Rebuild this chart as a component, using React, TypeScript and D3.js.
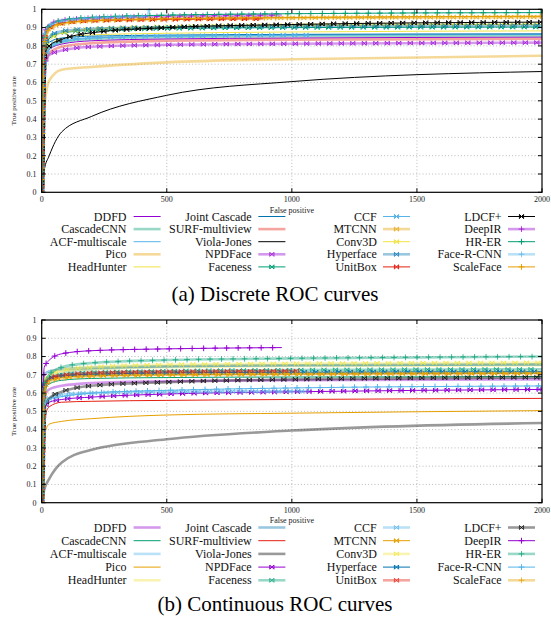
import React, { useEffect, useRef } from "react";
import * as d3 from "d3";

// ---------- data ----------
const methods = [
  "DDFD", "CascadeCNN", "ACF-multiscale", "Pico", "HeadHunter",
  "Joint Cascade", "SURF-multiview", "Viola-Jones", "NPDFace", "Faceness",
  "CCF", "MTCNN", "Conv3D", "Hyperface", "UnitBox",
  "LDCF+", "DeepIR", "HR-ER", "Face-R-CNN", "ScaleFace",
];

const palette = ["#9400D3", "#009E73", "#56B4E9", "#E69F00", "#F0E442", "#0072B2", "#E51E10", "#000000"];

const xTicks = [0, 500, 1000, 1500, 2000];
const yTicks = [0, 0.1, 0.2, 0.3, 0.4, 0.5, 0.6, 0.7, 0.8, 0.9, 1];
const yTickLabels = ["0", "0.1", "0.2", "0.3", "0.4", "0.5", "0.6", "0.7", "0.8", "0.9", "1"];

// [false positives, true positive rate] per method (same order as methods)
const discreteCurves: [number, number][][] = [
  [[0, 0], [10, 0.70], [30, 0.78], [80, 0.81], [200, 0.828], [500, 0.838], [1000, 0.843], [2000, 0.848]],
  [[0, 0], [10, 0.72], [30, 0.79], [80, 0.82], [200, 0.838], [500, 0.849], [1000, 0.854], [2000, 0.857]],
  [[0, 0], [10, 0.70], [30, 0.78], [80, 0.82], [200, 0.842], [500, 0.853], [1000, 0.858], [2000, 0.862]],
  [[0, 0], [10, 0.45], [30, 0.61], [80, 0.67], [200, 0.685], [500, 0.71], [1000, 0.727], [2000, 0.746]],
  [[0, 0], [10, 0.72], [30, 0.80], [80, 0.84], [200, 0.86], [500, 0.869], [1000, 0.876], [2000, 0.882]],
  [[0, 0], [10, 0.75], [30, 0.82], [80, 0.843], [200, 0.853], [500, 0.859], [1000, 0.863], [2000, 0.866]],
  [[0, 0], [10, 0.68], [30, 0.76], [80, 0.795], [200, 0.815], [500, 0.828], [1000, 0.834], [2000, 0.838]],
  [[0, 0], [10, 0.12], [30, 0.20], [80, 0.33], [200, 0.415], [500, 0.53], [1000, 0.605], [2000, 0.66]],
  [[0, 0], [10, 0.70], [30, 0.75], [80, 0.775], [200, 0.795], [500, 0.806], [1000, 0.812], [2000, 0.818]],
  [[0, 0], [10, 0.76], [30, 0.84], [80, 0.87], [200, 0.885], [500, 0.895], [1000, 0.90], [2000, 0.903]],
  [[0, 0], [10, 0.70], [30, 0.79], [80, 0.83], [200, 0.845], [500, 0.853], [1070, 0.859]],
  [[0, 0], [10, 0.82], [30, 0.89], [80, 0.92], [200, 0.937], [500, 0.947], [1000, 0.953], [2000, 0.958]],
  [[0, 0], [10, 0.75], [30, 0.83], [80, 0.87], [200, 0.892], [500, 0.905], [1000, 0.912], [2000, 0.918]],
  [[0, 0], [10, 0.78], [30, 0.85], [80, 0.88], [200, 0.893], [500, 0.902], [1000, 0.907], [2000, 0.912]],
  [[0, 0], [10, 0.83], [30, 0.90], [80, 0.925], [200, 0.938], [500, 0.945], [885, 0.948]],
  [[0, 0], [10, 0.74], [30, 0.80], [80, 0.835], [200, 0.872], [500, 0.90], [1000, 0.917], [2000, 0.93]],
  [[0, 0], [10, 0.86], [30, 0.915], [80, 0.94], [200, 0.952], [500, 0.962], [960, 0.968]],
  [[0, 0], [10, 0.84], [30, 0.91], [80, 0.94], [200, 0.956], [500, 0.968], [1000, 0.976], [2000, 0.982]],
  [[0, 0], [10, 0.85], [30, 0.91], [80, 0.935], [200, 0.952], [420, 0.962], [430, 1.0]],
  [[0, 0], [10, 0.82], [30, 0.89], [80, 0.922], [200, 0.938], [500, 0.948], [1000, 0.955], [2000, 0.962]],
];

const continuousCurves: [number, number][][] = [
  [[0, 0], [10, 0.58], [30, 0.62], [80, 0.64], [200, 0.655], [500, 0.665], [1000, 0.67], [2000, 0.675]],
  [[0, 0], [10, 0.60], [30, 0.65], [80, 0.67], [200, 0.68], [500, 0.685], [1000, 0.688], [2000, 0.69]],
  [[0, 0], [10, 0.62], [30, 0.68], [80, 0.71], [200, 0.73], [500, 0.745], [1000, 0.752], [2000, 0.757]],
  [[0, 0], [10, 0.36], [30, 0.43], [80, 0.445], [200, 0.46], [500, 0.48], [1000, 0.49], [2000, 0.504]],
  [[0, 0], [10, 0.64], [30, 0.69], [80, 0.715], [200, 0.73], [500, 0.742], [1000, 0.748], [2000, 0.752]],
  [[0, 0], [10, 0.70], [30, 0.72], [80, 0.73], [200, 0.738], [500, 0.747], [1000, 0.752], [2000, 0.757]],
  [[0, 0], [10, 0.45], [30, 0.525], [80, 0.55], [200, 0.555], [500, 0.56], [1000, 0.565], [2000, 0.571]],
  [[0, 0], [10, 0.07], [30, 0.13], [80, 0.22], [200, 0.29], [500, 0.347], [1000, 0.395], [2000, 0.436]],
  [[0, 0], [10, 0.52], [30, 0.55], [80, 0.565], [200, 0.578], [500, 0.595], [1000, 0.607], [2000, 0.62]],
  [[0, 0], [10, 0.63], [30, 0.68], [80, 0.70], [200, 0.712], [500, 0.72], [1000, 0.726], [2000, 0.73]],
  [[0, 0], [10, 0.53], [30, 0.57], [80, 0.59], [200, 0.60], [500, 0.607], [1070, 0.61]],
  [[0, 0], [10, 0.62], [30, 0.67], [80, 0.685], [200, 0.695], [500, 0.70], [1000, 0.704], [2000, 0.708]],
  [[0, 0], [10, 0.65], [30, 0.70], [80, 0.725], [200, 0.742], [500, 0.755], [1000, 0.761], [2000, 0.766]],
  [[0, 0], [10, 0.64], [30, 0.68], [80, 0.695], [200, 0.703], [500, 0.71], [1000, 0.714], [2000, 0.717]],
  [[0, 0], [10, 0.64], [30, 0.68], [80, 0.697], [200, 0.71], [500, 0.717], [1020, 0.721]],
  [[0, 0], [10, 0.52], [30, 0.57], [80, 0.607], [200, 0.64], [500, 0.66], [1000, 0.675], [2000, 0.686]],
  [[0, 0], [10, 0.74], [30, 0.78], [80, 0.815], [200, 0.832], [500, 0.842], [960, 0.849]],
  [[0, 0], [10, 0.64], [30, 0.70], [80, 0.742], [200, 0.765], [500, 0.781], [1000, 0.79], [2000, 0.80]],
  [[0, 0], [10, 0.54], [30, 0.565], [80, 0.58], [200, 0.60], [500, 0.615], [1000, 0.628], [2000, 0.639]],
  [[0, 0], [10, 0.61], [30, 0.66], [80, 0.68], [200, 0.693], [500, 0.70], [1000, 0.705], [2000, 0.71]],
];

// ---------- layout ----------
const FONT = "'Liberation Serif', 'Times New Roman', Times, serif";
const PX0 = 41.7;
const PX1 = 542;
const legendTextX = [126.5, 251.7, 376.8, 501.6];
const legendLineX = [[133.6, 160.6], [258.3, 285.4], [383, 410], [508, 535]];
const THICK_W = 2.6;
const THICK_OP = 0.4;

type Cfg = {
  top: number;
  bottom: number;
  curves: [number, number][][];
  thick: (i: number) => boolean;
  legendY0: number;
  legendStep: number;
  captionY: number;
  caption: string;
};

function markerPath(kind: string, s: number) {
  if (kind === "x")
    return `M${-s},${-s}L${s},${s}M${-s},${s}L${s},${-s}M${-s},${-s}L${-s},${s}M${s},${-s}L${s},${s}`;
  return `M${-s - 0.5},0H${s + 0.5}M0,${-s - 0.5}V${s + 0.5}`;
}

function drawChart(svg: d3.Selection<SVGSVGElement, unknown, null, undefined>, cfg: Cfg, id: string) {
  const x = d3.scaleLinear().domain([0, 2000]).range([PX0, PX1]);
  const y = d3.scaleLinear().domain([0, 1]).range([cfg.bottom, cfg.top]);
  const g = svg.append("g");

  g.append("clipPath").attr("id", id).append("rect")
    .attr("x", PX0).attr("y", cfg.top - 1).attr("width", PX1 - PX0).attr("height", cfg.bottom - cfg.top + 1);

  // grid
  const grid = g.append("g").attr("stroke", "#a8a8a8").attr("stroke-width", 0.8).attr("stroke-dasharray", "1,2.2");
  yTicks.slice(1, -1).forEach((t) => {
    grid.append("line").attr("x1", PX0).attr("x2", PX1).attr("y1", y(t)).attr("y2", y(t));
  });
  xTicks.slice(1, -1).forEach((t) => {
    grid.append("line").attr("x1", x(t)).attr("x2", x(t)).attr("y1", cfg.top).attr("y2", cfg.bottom);
  });

  // curves
  const line = d3.line<[number, number]>().x((d) => x(d[0])).y((d) => y(d[1])).curve(d3.curveMonotoneX);
  const cg = g.append("g").attr("clip-path", `url(#${id})`);
  cfg.curves.forEach((pts, i) => {
    const color = palette[i % 8];
    const thick = cfg.thick(i);
    const kind = i < 8 ? "" : i < 16 ? "x" : "+";
    const path = cg.append("path").attr("d", line(pts) || "")
      .attr("fill", "none").attr("stroke", color)
      .attr("stroke-width", thick ? THICK_W : 1)
      .attr("stroke-opacity", thick ? THICK_OP : 1)
      .attr("stroke-linejoin", "round");
    if (kind) {
      const node = path.node() as SVGPathElement;
      const L = node.getTotalLength();
      const step = 11.5;
      const mg = cg.append("g").attr("stroke", color).attr("stroke-width", 1).attr("fill", "none")
        .attr("stroke-opacity", thick ? 0.7 : 1);
      for (let s = (i * 3.7) % step; s <= L; s += step) {
        const p = node.getPointAtLength(s);
        mg.append("path").attr("d", markerPath(kind, kind === "x" ? 2.1 : 2.4))
          .attr("transform", `translate(${p.x},${p.y})`);
      }
    }
  });

  // border + ticks
  g.append("rect").attr("x", PX0).attr("y", cfg.top).attr("width", PX1 - PX0).attr("height", cfg.bottom - cfg.top)
    .attr("fill", "none").attr("stroke", "#000").attr("stroke-width", 1.2);
  const tk = g.append("g").attr("stroke", "#000").attr("stroke-width", 1);
  yTicks.forEach((t) => {
    tk.append("line").attr("x1", PX0).attr("x2", PX0 + 4).attr("y1", y(t)).attr("y2", y(t));
    tk.append("line").attr("x1", PX1 - 4).attr("x2", PX1).attr("y1", y(t)).attr("y2", y(t));
  });
  xTicks.forEach((t) => {
    tk.append("line").attr("x1", x(t)).attr("x2", x(t)).attr("y1", cfg.bottom).attr("y2", cfg.bottom - 4);
    tk.append("line").attr("x1", x(t)).attr("x2", x(t)).attr("y1", cfg.top).attr("y2", cfg.top + 4);
  });

  // tick labels
  const tl = g.append("g").attr("font-family", FONT).attr("font-size", 8).attr("fill", "#222");
  yTicks.forEach((t, k) => {
    tl.append("text").attr("x", 36.5).attr("y", y(t) + 2.8).attr("text-anchor", "end").text(yTickLabels[k]);
  });
  xTicks.forEach((t) => {
    tl.append("text").attr("x", x(t)).attr("y", cfg.bottom + 10).attr("text-anchor", "middle").text(String(t));
  });
  tl.append("text").attr("x", (PX0 + PX1) / 2).attr("y", cfg.bottom + 20.5).attr("text-anchor", "middle")
    .attr("font-size", 8).text("False positive");
  const cy = (cfg.top + cfg.bottom) / 2;
  tl.append("text").attr("transform", `translate(15.5,${cy}) rotate(-90)`).attr("text-anchor", "middle")
    .attr("font-size", 7).text("True positive rate");

  // legend
  const lg = g.append("g").attr("font-family", FONT).attr("font-size", 12).attr("fill", "#111");
  methods.forEach((name, i) => {
    const col = Math.floor(i / 5);
    const row = i % 5;
    const ly = cfg.legendY0 + row * cfg.legendStep;
    const color = palette[i % 8];
    const thick = cfg.thick(i);
    const kind = i < 8 ? "" : i < 16 ? "x" : "+";
    lg.append("text").attr("x", legendTextX[col]).attr("y", ly + 4).attr("text-anchor", "end").text(name);
    const [a, b] = legendLineX[col];
    lg.append("line").attr("x1", a).attr("x2", b).attr("y1", ly).attr("y2", ly)
      .attr("stroke", color).attr("stroke-width", thick ? THICK_W : 1).attr("stroke-opacity", thick ? THICK_OP : 1);
    if (kind) {
      lg.append("path").attr("d", markerPath(kind, kind === "x" ? 2.1 : 2.4))
        .attr("transform", `translate(${(a + b) / 2},${ly})`)
        .attr("fill", "none").attr("stroke", color).attr("stroke-width", 1)
        .attr("stroke-opacity", thick ? 0.7 : 1);
    }
  });

  // caption
  g.append("text").attr("x", 275).attr("y", cfg.captionY + 7).attr("text-anchor", "middle")
    .attr("font-family", FONT).attr("font-size", 21).attr("fill", "#000").text(cfg.caption);
}

export default function App() {
  const ref = useRef<SVGSVGElement>(null);
  useEffect(() => {
    if (!ref.current) return;
    const svg = d3.select(ref.current);
    svg.selectAll("*").remove();
    drawChart(svg, {
      top: 9.3, bottom: 192.3, curves: discreteCurves,
      thick: (i) => i % 5 === 1 || i % 5 === 3,
      legendY0: 216.5, legendStep: 12.6, captionY: 294, caption: "(a) Discrete ROC curves",
    }, "clipA");
    drawChart(svg, {
      top: 320, bottom: 502.7, curves: continuousCurves,
      thick: (i) => i % 5 === 0 || i % 5 === 2 || i % 5 === 4,
      legendY0: 527.5, legendStep: 13.2, captionY: 604, caption: "(b) Continuous ROC curves",
    }, "clipB");
  }, []);
  return (
    <svg ref={ref} width={551} height={618}
      style={{ position: "absolute", left: 0, top: 0, background: "#fff", display: "block" }} />
  );
}
